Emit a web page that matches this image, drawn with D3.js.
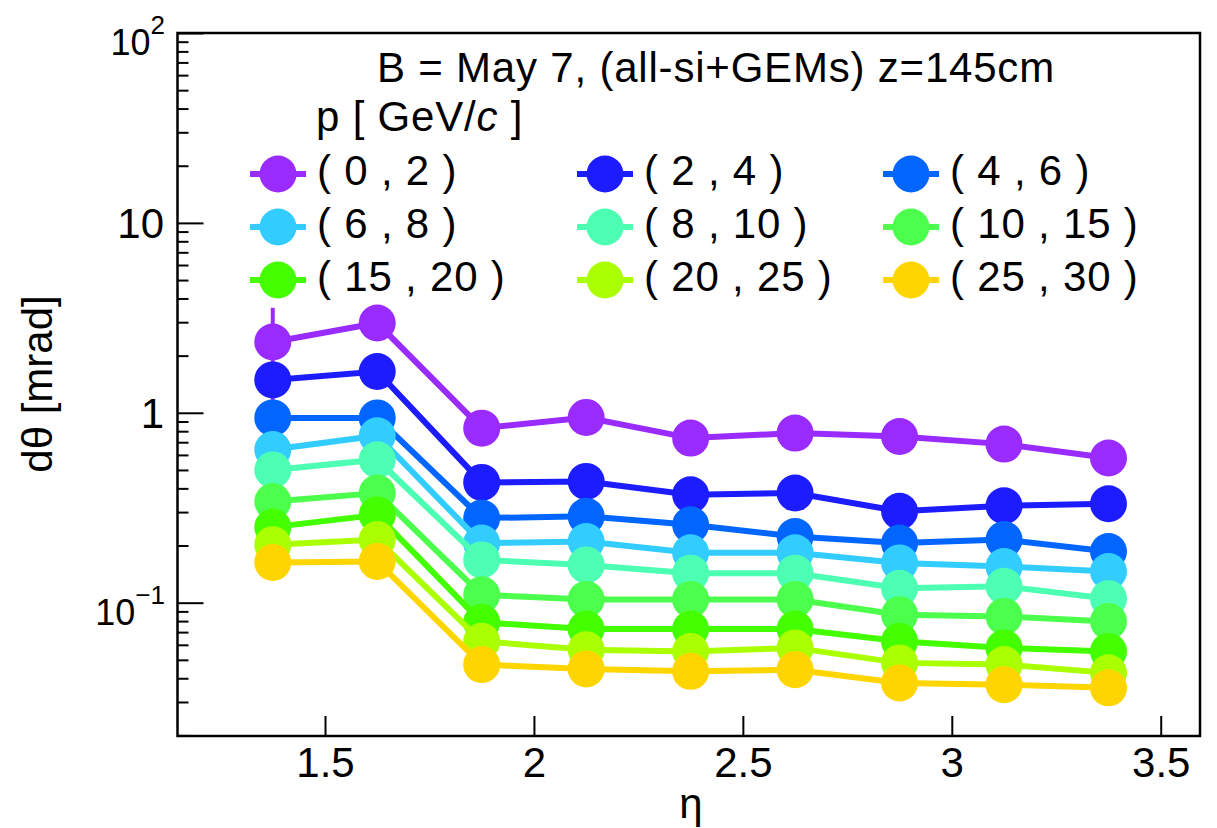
<html>
<head>
<script src="https://d3js.org/d3.v7.min.js"></script>
<style>
  body { margin: 0; background: #fff; }
  text { font-family: "Liberation Sans", Arial, sans-serif; fill: #000; }
</style>
</head>
<body>
<svg id="chart" width="1217" height="828"></svg>
<script>
// eta bin centres
var eta = [1.375, 1.625, 1.875, 2.125, 2.375, 2.625, 2.875, 3.125, 3.375];

// d theta [mrad] per momentum bin
var p0_2   = [2.36, 2.97, 0.83, 0.945, 0.736, 0.782, 0.75, 0.684, 0.578];
var p2_4   = [1.49, 1.65, 0.43, 0.435, 0.370, 0.378, 0.303, 0.324, 0.332];
var p4_6   = [0.94, 0.94, 0.279, 0.285, 0.257, 0.223, 0.206, 0.215, 0.186];
var p6_8   = [0.64, 0.757, 0.206, 0.21, 0.183, 0.183, 0.162, 0.155, 0.146];
var p8_10  = [0.50, 0.566, 0.168, 0.158, 0.143, 0.143, 0.119, 0.122, 0.105];
var p10_15 = [0.341, 0.378, 0.110, 0.104, 0.104, 0.104, 0.0865, 0.0847, 0.0797];
var p15_20 = [0.25, 0.29, 0.0788, 0.0727, 0.0727, 0.0727, 0.0626, 0.0578, 0.0554];
var p20_25 = [0.202, 0.215, 0.0626, 0.0566, 0.0554, 0.0578, 0.0482, 0.0472, 0.0427];
var p25_30 = [0.163, 0.165, 0.0472, 0.0448, 0.0435, 0.0444, 0.0378, 0.037, 0.0356];

// only the first 0-2 point shows an error bar above its marker
var err0_2 = [1.21, 0, 0, 0, 0, 0, 0, 0, 0];

var binLabels = ["( 0 , 2 )", "( 2 , 4 )", "( 4 , 6 )",
                 "( 6 , 8 )", "( 8 , 10 )", "( 10 , 15 )",
                 "( 15 , 20 )", "( 20 , 25 )", "( 25 , 30 )"];
var colors = ["#9a2bff", "#1c1cff", "#0066ff", "#33ccff", "#4dffb3",
              "#4dff4d", "#44ff00", "#aaff00", "#ffd500"];

var xTicks = [1.5, 2, 2.5, 3, 3.5];
var yExpTicks = [{v: 100, base: "10", exp: "2"}, {v: 0.1, base: "10", exp: "\u22121"}];
var yPlainTicks = [{v: 10, label: "10"}, {v: 1, label: "1"}];

var series = [p0_2, p2_4, p4_6, p6_8, p8_10, p10_15, p15_20, p20_25, p25_30];

var svg = d3.select("#chart");
var plotL = 177.5, plotR = 1200, plotT = 33, plotB = 736;

var x = d3.scaleLinear().domain([1.147, 3.594]).range([plotL, plotR]);
var y = d3.scaleLog().domain([0.01986, 100]).range([plotB, plotT]);

// x axis
var xa = svg.append("g").attr("transform", "translate(0," + plotB + ")")
  .call(d3.axisBottom(x).tickValues(xTicks).tickSize(-20).tickPadding(11)
        .tickFormat(function(d) { return d; }));
xa.select(".domain").remove();
xa.selectAll(".tick line").attr("stroke", "#000").attr("stroke-width", 2);
xa.selectAll(".tick text").attr("font-size", 42).attr("font-family", "Liberation Sans, Arial, sans-serif");

// y axis major + minor ticks
var minor = [];
[0.01, 0.1, 1, 10].forEach(function(dec) {
  for (var k = 2; k <= 9; k++) {
    var v = dec * k;
    if (v >= 0.01986 && v <= 100) minor.push(v);
  }
});
var ya = svg.append("g").attr("transform", "translate(" + plotL + ",0)")
  .call(d3.axisLeft(y).tickValues([0.1, 1, 10, 100]).tickSize(-26).tickFormat(""));
ya.select(".domain").remove();
ya.selectAll(".tick line").attr("stroke", "#000").attr("stroke-width", 2);
var ym = svg.append("g").attr("transform", "translate(" + plotL + ",0)")
  .call(d3.axisLeft(y).tickValues(minor).tickSize(-11).tickFormat(""));
ym.select(".domain").remove();
ym.selectAll(".tick line").attr("stroke", "#000").attr("stroke-width", 2);

// frame
svg.append("rect")
  .attr("x", plotL).attr("y", plotT)
  .attr("width", plotR - plotL).attr("height", plotB - plotT)
  .attr("fill", "none").attr("stroke", "#000").attr("stroke-width", 2.5);

// y tick labels
svg.selectAll(".ylab").data(yPlainTicks).join("text")
  .attr("x", 164).attr("y", function(d) { return y(d.v) + 15; })
  .attr("text-anchor", "end").attr("font-size", 42)
  .text(function(d) { return d.label; });
var ye = svg.selectAll(".yexp").data(yExpTicks).join("text")
  .attr("x", 165).attr("y", function(d) { return y(d.v) + 22; })
  .attr("text-anchor", "end").attr("font-size", 36);
ye.append("tspan").text(function(d) { return d.base; });
ye.append("tspan").attr("font-size", 26).attr("dy", -21).text(function(d) { return d.exp; });

// axis titles
svg.append("text").attr("x", 691).attr("y", 818).attr("text-anchor", "middle")
  .attr("font-size", 42).text("\u03b7");
svg.append("text").attr("transform", "translate(52,384) rotate(-90)")
  .attr("text-anchor", "middle").attr("font-size", 42).text("d\u03b8 [mrad]");

// data
var line = d3.line().x(function(d) { return x(d[0]); }).y(function(d) { return y(d[1]); });
series.forEach(function(vals, i) {
  var g = svg.append("g");
  var pts = eta.map(function(e, j) { return [e, vals[j], i === 0 ? err0_2[j] : 0]; });
  g.selectAll("line.err").data(pts.filter(function(d) { return d[2] > 0; }))
    .join("line")
    .attr("x1", function(d) { return x(d[0]); }).attr("x2", function(d) { return x(d[0]); })
    .attr("y1", function(d) { return y(d[1] + d[2]); })
    .attr("y2", function(d) { return y(d[1] - d[2]); })
    .attr("stroke", colors[i]).attr("stroke-width", 4);
  g.append("path").datum(pts).attr("d", line)
    .attr("fill", "none").attr("stroke", colors[i]).attr("stroke-width", 6);
  g.selectAll("circle").data(pts).join("circle")
    .attr("cx", function(d) { return x(d[0]); })
    .attr("cy", function(d) { return y(d[1]); })
    .attr("r", 18.5).attr("fill", colors[i]);
});

// header text
svg.append("text").attr("x", 377).attr("y", 82).attr("font-size", 42)
  .attr("letter-spacing", 0.8)
  .text("B = May 7, (all-si+GEMs) z=145cm");
var ptitle = svg.append("text").attr("x", 316).attr("y", 131).attr("font-size", 42)
  .attr("letter-spacing", 0.8);
ptitle.append("tspan").text("p [ GeV/");
ptitle.append("tspan").attr("font-style", "italic").text("c");
ptitle.append("tspan").text(" ]");

// legend
var colX = [278, 605, 911], rowY = [174, 227, 280];
binLabels.forEach(function(lab, i) {
  var cx = colX[i % 3], cy = rowY[Math.floor(i / 3)];
  var lg = svg.append("g");
  lg.append("line").attr("x1", cx - 28).attr("x2", cx + 28)
    .attr("y1", cy).attr("y2", cy).attr("stroke", colors[i]).attr("stroke-width", 6);
  lg.append("circle").attr("cx", cx).attr("cy", cy).attr("r", 18.5).attr("fill", colors[i]);
  lg.append("text").attr("x", cx + 39).attr("y", cy + 11).attr("font-size", 42)
    .attr("letter-spacing", 0.8).text(lab);
});
</script>
</body>
</html>
